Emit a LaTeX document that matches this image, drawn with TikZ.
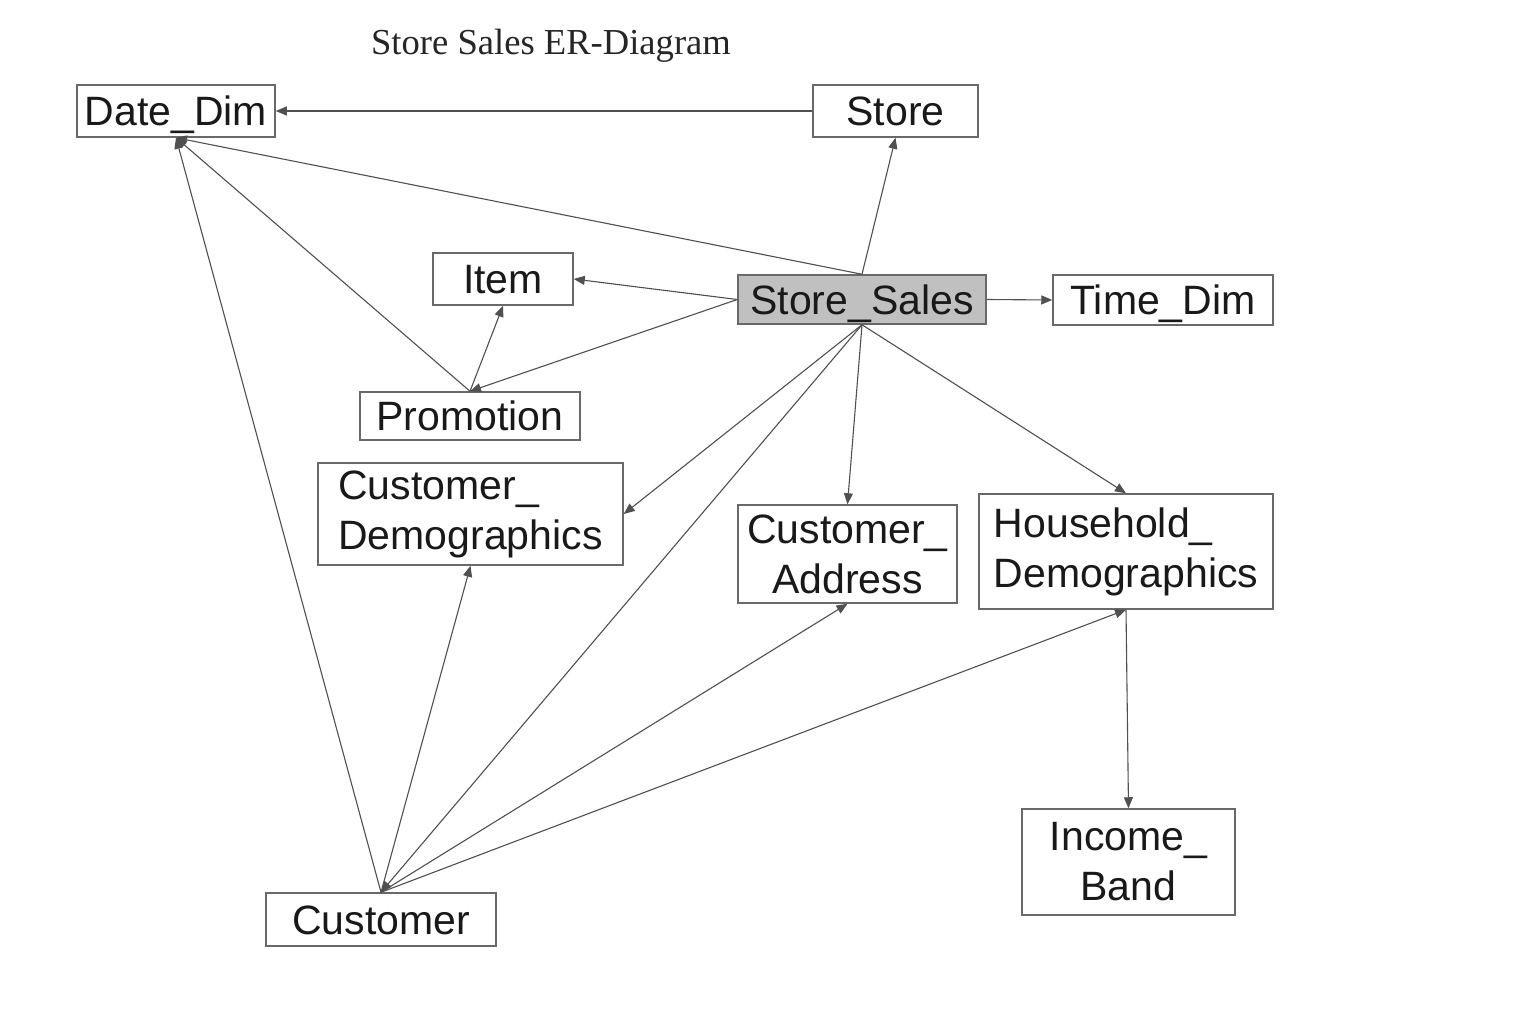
\documentclass[tikz,border=0pt]{standalone}
\usepackage{fontspec}
\setmainfont{Liberation Serif}
\newfontfamily\arialf{Liberation Sans}
\usetikzlibrary{arrows.meta}
\definecolor{boxline}{RGB}{105,105,105}
\definecolor{linkline}{RGB}{80,80,80}
\definecolor{ssfill}{RGB}{192,192,192}
\tikzset{
  ent/.style={draw=boxline, line width=0.75pt, inner sep=0pt, fill=white,
    font=\arialf\fontsize{20.5}{25}\selectfont, text=black!90},
  oneline/.style={text height=14.8pt, text depth=0.2pt},
  link/.style={draw=linkline, line width=0.55pt, -{Triangle[length=5.5pt,width=4.5pt]}},
}
\begin{document}
\begin{tikzpicture}[x=0.5pt,y=-0.5pt]
\fill[white] (0,0) rectangle (1518,1032);
\useasboundingbox (0,0) rectangle (1518,1032);
\node[font=\fontsize{18.3}{22}\selectfont, text=black!85] (title) at (551,46) {Store Sales ER-Diagram};
\node[ent, oneline, minimum width=99pt, minimum height=26pt] (dd) at (176,111) {Date\_Dim};
\node[ent, oneline, minimum width=82.5pt, minimum height=26pt] (store) at (895.5,111) {Store};
\node[ent, oneline, minimum width=70pt, minimum height=26pt] (item) at (503,279) {Item};
\node[ent, oneline, fill=ssfill, minimum width=124pt, minimum height=24.5pt] (ss) at (862,299.5) {Store\_Sales};
\node[ent, oneline, minimum width=110pt, minimum height=25pt] (td) at (1163,300) {Time\_Dim};
\node[ent, oneline, minimum width=110pt, minimum height=24pt] (promo) at (470,416) {Promotion};
\node[ent, align=left, minimum width=152.5pt, minimum height=51pt] (cd) at (470.5,514) {Customer\_\\Demographics};
\node[ent, align=center, minimum width=109.5pt, minimum height=49pt] (ca) at (847.5,554) {Customer\_\\Address};
\node[ent, align=left, minimum width=147pt, minimum height=57.5pt] (hd) at (1126,551.5) {Household\_\\Demographics};
\node[ent, align=center, minimum width=106.5pt, minimum height=53pt] (ib) at (1128.5,862) {Income\_\\Band};
\node[ent, oneline, minimum width=115pt, minimum height=26.5pt] (cust) at (381,919.5) {Customer};
% connectors
\draw[link] (store.west) -- (dd.east);
\draw[link] (ss.north) -- (store.south);
\draw[link] (ss.north) -- (dd.south);
\draw[link] (ss.west) -- (item.east);
\draw[link] (ss.west) -- (promo.north);
\draw[link] (promo.north) -- (item.south);
\draw[link] (promo.north) -- (dd.south);
\draw[link] (ss.east) -- (td.west);
\draw[link] (ss.south) -- (cd.east);
\draw[link] (ss.south) -- (cust.north);
\draw[link] (ss.south) -- (ca.north);
\draw[link] (ss.south) -- (hd.north);
\draw[link] (cust.north) -- (dd.south);
\draw[link] (cust.north) -- (cd.south);
\draw[link] (cust.north) -- (ca.south);
\draw[link] (cust.north) -- (hd.south);
\draw[link] (hd.south) -- (ib.north);
\end{tikzpicture}
\end{document}
